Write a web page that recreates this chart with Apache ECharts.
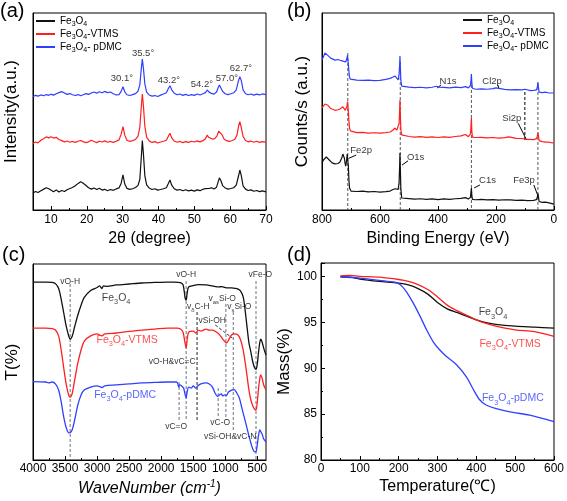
<!DOCTYPE html>
<html><head><meta charset="utf-8">
<script src="https://cdn.jsdelivr.net/npm/echarts@6/dist/echarts.min.js"></script>
<style>html,body{margin:0;padding:0;background:#fff}#c{width:567px;height:501px}</style>
</head><body><div id="c"></div>
<script>
const FONT = '"Liberation Sans", Arial, sans-serif';
const BLACK = '#111111', RED = '#ff1f1f', BLUE = '#2f3fff', DASH = '#6b7185';

// ---------- (a) XRD ----------
const seriesNames = ['Fe3O4', 'Fe3O4-VTMS', 'Fe3O4- pDMC'];
const xrdTicks = [10, 20, 30, 40, 50, 60, 70];
const xrdMinorTicks = [5, 15, 25, 35, 45, 55, 65];
const xrdFe3O4 = [[5,8.6],[5.7,9.4],[6.4,8.9],[7.2,9.8],[8,10.6],[8.7,11.3],[9.4,10.8],[10,10.1],[10.7,9.3],[11.5,10.2],[12.2,9.1],[13,9.9],[13.8,9.4],[14.5,10.3],[15.3,10.9],[16,11.4],[16.8,12.3],[17.6,13.5],[18.3,14.3],[19,13.6],[19.8,12.4],[20.5,11.3],[21.3,10.6],[22,11.2],[22.8,10.4],[23.5,11.0],[24.3,10.1],[25,10.5],[25.8,9.8],[26.6,10.4],[27.4,10.0],[28.2,10.7],[29,11.2],[29.6,13.6],[30.1,17.8],[30.6,13.2],[31.2,11.0],[32,10.5],[32.8,10.8],[33.6,11.4],[34.3,12.5],[34.8,15.5],[35.2,26.5],[35.5,35.2],[35.8,28.5],[36.2,17.5],[36.7,12.8],[37.4,11.2],[38.2,10.4],[39,10.8],[39.8,10.1],[40.6,10.4],[41.4,10.8],[42.2,11.3],[42.8,13.6],[43.2,15.2],[43.7,12.6],[44.4,10.8],[45.2,10.1],[46,10.4],[46.8,9.8],[47.6,10.3],[48.4,9.7],[49.2,10.1],[50,9.6],[50.8,10.2],[51.6,9.8],[52.4,10.5],[53.1,10.9],[53.6,11.9],[54.2,11.0],[54.8,11.3],[55.5,10.7],[56.2,11.6],[56.7,14.5],[57.0,16.3],[57.4,15.0],[57.9,12.4],[58.6,11.2],[59.4,10.6],[60.2,10.9],[61,11.3],[61.7,12.6],[62.3,17.0],[62.7,20.3],[63.1,17.6],[63.6,12.3],[64.3,10.6],[65,9.9],[65.8,10.2],[66.6,9.5],[67.4,9.9],[68.2,9.3],[69,9.7],[70,9.2]];
const xrdVTMS = [[5,33.8],[5.7,34.5],[6.4,34.1],[7.2,35.4],[8,36.3],[8.7,37.1],[9.4,36.6],[10,37.2],[10.7,36.5],[11.5,36.9],[12.2,35.8],[13,35.2],[13.8,34.6],[14.5,35.0],[15.3,34.4],[16,34.8],[16.8,34.3],[17.6,34.9],[18.3,35.3],[19,34.7],[19.8,34.2],[20.5,34.6],[21.3,35.4],[22,34.8],[22.8,34.2],[23.5,34.9],[24.3,34.5],[25,35.1],[25.8,34.4],[26.6,34.8],[27.4,34.3],[28.2,34.9],[29,35.6],[29.6,38.5],[30.1,42.3],[30.6,38.0],[31.2,35.4],[32,34.8],[32.8,35.2],[33.6,35.8],[34.3,37.5],[34.8,42],[35.2,52],[35.5,58.9],[35.8,53],[36.2,42.5],[36.7,37.0],[37.4,35.1],[38.2,34.3],[39,34.7],[39.8,34.0],[40.6,34.5],[41.4,34.9],[42.2,35.4],[42.8,37.6],[43.2,39.0],[43.7,36.6],[44.4,35.0],[45.2,34.4],[46,34.8],[46.8,34.2],[47.6,34.7],[48.4,34.3],[49.2,34.9],[50,34.5],[50.8,35.1],[51.6,34.6],[52.4,35.2],[53.1,36.2],[53.6,38.0],[54.0,36.9],[54.4,37.8],[55,36.0],[55.7,36.2],[56.3,37.5],[56.8,40.0],[57.2,40.6],[57.7,38.3],[58.3,36.0],[59,35.2],[59.8,34.8],[60.6,35.3],[61.3,35.9],[61.9,38.0],[62.4,43.0],[62.7,44.8],[63.1,42.0],[63.6,37.4],[64.3,35.3],[65,34.6],[65.8,35.0],[66.6,34.4],[67.4,34.9],[68.2,34.3],[69,34.7],[70,34.5]];
const xrdPDMC = [[5,57.5],[5.7,58.2],[6.4,57.8],[7.2,58.4],[8,58.0],[8.7,58.6],[9.4,58.2],[10,58.8],[10.7,58.3],[11.5,59.0],[12.2,59.6],[13,60.1],[13.8,59.4],[14.5,58.7],[15.3,59.1],[16,58.5],[16.8,58.1],[17.6,58.6],[18.3,58.0],[19,58.5],[19.8,59.1],[20.5,58.7],[21.3,59.4],[22,59.9],[22.8,59.3],[23.5,60.0],[24.3,59.5],[25,60.2],[25.8,59.6],[26.6,59.9],[27.4,59.0],[28.2,58.4],[29,58.6],[29.6,60.2],[30.1,62.6],[30.6,60.0],[31.2,58.5],[32,58.1],[32.8,58.6],[33.6,59.1],[34.3,60.3],[34.8,63.5],[35.2,71.5],[35.5,76.6],[35.8,72],[36.2,64],[36.7,59.8],[37.4,58.4],[38.2,57.8],[39,58.1],[39.8,57.6],[40.6,58.3],[41.4,58.9],[42.2,59.5],[42.8,61.8],[43.2,63.1],[43.7,61.0],[44.4,59.3],[45.2,58.5],[46,58.9],[46.8,58.2],[47.6,58.7],[48.4,58.1],[49.2,58.6],[50,58.2],[50.8,58.9],[51.6,58.4],[52.4,59.0],[53.1,59.6],[53.6,60.9],[54.2,59.7],[54.8,59.2],[55.5,58.8],[56.2,59.9],[56.7,62.3],[57.0,63.5],[57.4,62.5],[57.9,60.2],[58.6,59.0],[59.4,58.6],[60.2,59.0],[61,59.5],[61.7,61.0],[62.3,65.5],[62.7,67.7],[63.1,65.8],[63.6,61.0],[64.3,59.0],[65,58.5],[65.8,58.9],[66.6,58.3],[67.4,58.8],[68.2,58.4],[69,58.9],[70,58.6]];
const xrdPeakLabels = [[29.8,67,'30.1°'],[35.7,79.7,'35.5°'],[42.9,66,'43.2°'],[52.1,64,'54.2°'],[59.1,67,'57.0°'],[63.0,72.1,'62.7°']];

// ---------- (b) XPS ----------
const xpsTicks = [800, 600, 400, 200, 0];
const xpsMinorTicks = [700, 500, 300, 100];
const xpsFe3O4 = [[800,23.9],[795,25.4],[790,26.4],[785,26.9],[780,26.2],[775,25.4],[770,24.6],[765,23.9],[755,23.4],[745,23.6],[738,24.4],[732,26.4],[728,28.4],[726,29.4],[723,26.4],[720,23.4],[718,22.3],[715,25.4],[713,28.4],[711,29.4],[709,22],[707,15],[705,11.2],[702,10.2],[700,9.6],[680,9.4],[660,9.6],[640,9.2],[620,9.4],[600,9.1],[580,9.3],[565,9.6],[555,10.4],[548,10.8],[542,9.8],[537,10.5],[534,14],[532,23],[531,28.9],[529.5,20],[528,11],[525,6.1],[520,5.6],[500,5.8],[480,5.5],[460,5.7],[440,5.4],[420,5.6],[400,5.3],[380,5.6],[360,5.4],[340,5.7],[320,5.9],[305,6.3],[295,5.6],[288,6.4],[286,9],[284.5,11.2],[283,7.5],[281,5.4],[270,5.2],[250,5.4],[230,5.1],[210,5.3],[190,5.0],[170,5.2],[150,5.1],[130,4.9],[110,5.0],[90,4.8],[70,4.9],[60,5.3],[57,6.5],[55,8.3],[53,6.5],[51,4.3],[48,4.1],[40,3.9],[30,4.0],[25,4.6],[20,3.7],[10,3.4],[5,3.2],[0,3.0]];
const xpsVTMS = [[800,51.8],[795,52.8],[790,53.8],[785,54.0],[780,53.2],[775,52.3],[770,51.5],[765,50.8],[755,50.6],[745,50.9],[738,51.3],[732,52],[728,52.4],[726,52.6],[723,51.5],[720,50.6],[717,50.2],[714,52.5],[712,55],[711,55.3],[709,50],[707,45],[705,41.6],[702,40.2],[700,39.6],[680,39.3],[660,39.4],[640,39.0],[620,39.2],[600,39.0],[580,39.3],[565,39.6],[555,40.6],[548,41.6],[542,40.5],[537,40.8],[534,44],[532,51],[531,55.8],[529.5,48],[528,41],[525,38.1],[520,37.1],[500,37.3],[480,37.0],[460,37.2],[440,36.9],[420,37.1],[400,36.8],[380,37.1],[360,36.9],[340,37.3],[320,37.6],[305,38.3],[295,37.2],[288,38.6],[286,42],[284.5,46.7],[283,40],[281,37.0],[270,36.8],[250,36.9],[230,36.6],[210,36.8],[190,36.5],[170,36.7],[155,37.1],[150,36.6],[130,36.4],[110,36.3],[100,36.0],[90,35.9],[70,35.7],[60,36.2],[57,37.5],[55,39.1],[53,37.5],[51,35.2],[48,34.9],[40,34.7],[30,34.5],[20,34.5],[10,34.2],[0,34.0]];
const xpsPDMC = [[800,76.1],[797,77.0],[793,78.6],[790,79.7],[785,79.6],[780,78.5],[775,77.7],[770,77.1],[765,76.6],[755,76.1],[745,76.4],[738,76.0],[732,75.8],[728,75.6],[726,76.1],[722,75.5],[718,75.1],[715,76.5],[712,78.5],[711,79.2],[709,74],[707,70],[705,67.5],[702,66.4],[700,66.0],[680,65.9],[660,65.8],[640,65.9],[620,65.7],[600,65.8],[580,66.3],[565,66.8],[555,67.5],[548,68.0],[542,67.2],[537,66.0],[534,69],[532,74],[531,78.2],[529.5,72],[528,66],[525,62.9],[520,62.2],[500,62.4],[480,62.1],[460,62.3],[440,62.0],[420,62.3],[405,62.8],[401,63.5],[398,62.3],[380,62.2],[360,62.0],[340,62.4],[320,62.1],[305,62.6],[295,62.0],[288,63.2],[286,65.5],[284.5,69.0],[283,64.5],[281,61.8],[270,61.3],[250,61.5],[230,61.3],[210,61.6],[200,62.0],[195,61.4],[170,61.2],[150,61.0],[130,61.1],[110,61.0],[100,61.3],[97,61.8],[94,60.8],[80,60.6],[70,60.7],[60,61.0],[57,62.5],[55,64.5],[53,62],[51,59.8],[48,59.7],[40,59.6],[30,59.8],[20,59.5],[10,59.4],[0,59.4]];
// dashed guide lines: [eV, yTop, yBottom, color]
const xpsGuides = [[711,79.7,0,'#555'],[530,75.1,0,'#555'],[284.5,66,0,'#555'],[100,59.9,35.5,'#000'],[55,65,0,'#555']];
// leader lines: [x1,y1,x2,y2]
const xpsLeaders = [[389,63.5,403,61.9],[193,63.5,190,61.9],[123,44,94,35.5],[682,27.9,708,26.2],[503,25,524,22.8],[255,12.7,275,11.2],[69,12.7,54,6.8]];
const xpsLabels = [[365,65.2,'N1s'],[213,65.2,'Cl2p'],[145,46.4,'Si2p'],[665,30.2,'Fe2p'],[477,26.6,'O1s'],[229,15.2,'C1s'],[103,15,'Fe3p']];

// ---------- (c) FTIR ----------
const ftirTicks = [4000, 3500, 3000, 2500, 2000, 1500, 1000, 500];
const ftirMinorTicks = [3750, 3250, 2750, 2250, 1750, 1250, 750];
const ftirFe3O4 = [[4000,90.8],[3800,90.8],[3700,90.6],[3650,90.0],[3600,87.5],[3560,82],[3520,75],[3480,68],[3440,63],[3420,61.7],[3390,63],[3350,68],[3300,74],[3250,79],[3200,83],[3100,86.5],[3000,88],[2960,88.8],[2925,87.5],[2900,88.8],[2850,88.6],[2700,89.3],[2500,89.8],[2300,90.3],[2100,90.6],[1900,90.8],[1800,90.8],[1700,90.5],[1660,89.5],[1640,86],[1625,82.5],[1610,81.6],[1595,85],[1570,88.3],[1500,89],[1420,89.5],[1300,89.3],[1200,88.8],[1100,88.3],[1050,88.5],[1000,88.0],[900,87.8],[850,87.6],[800,87.2],[760,86.2],[720,83.2],[690,76.5],[660,67.9],[630,59.7],[600,55.1],[570,50],[540,46.9],[520,46.2],[500,49],[480,55.1],[460,60.2],[445,61.7],[425,60.2],[400,57.1],[380,55.1],[364,53.6]];
const ftirVTMS = [[4000,67.3],[3800,67.3],[3700,67.0],[3650,66.3],[3600,63.3],[3560,56.1],[3520,46.9],[3480,38.3],[3440,32.7],[3420,32.1],[3390,33.7],[3350,40.8],[3300,49.5],[3250,56.1],[3200,60.7],[3100,63.3],[3000,64.3],[2925,63.3],[2880,64.3],[2700,64.8],[2500,65.6],[2300,66.3],[2100,66.8],[1900,67.3],[1750,67.3],[1700,66.8],[1660,65.3],[1630,60.2],[1610,57.1],[1595,61.2],[1570,65.3],[1500,65.8],[1460,64.8],[1420,66.3],[1380,65.8],[1300,66.8],[1250,66.3],[1200,66.3],[1100,64.3],[1040,61.7],[980,59.7],[940,61.7],[900,63.8],[860,64.3],[800,63.8],[760,61.2],[720,56.1],[690,50],[660,42.9],[630,35.7],[600,30.6],[570,27.6],[540,25.8],[520,25.5],[500,29.6],[480,36.7],[460,41.8],[445,43.4],[425,41.8],[400,38.3],[364,35.7]];
const ftirPDMC = [[4000,40],[3800,39.8],[3750,39.3],[3700,39.8],[3650,38.8],[3600,35.7],[3560,29.6],[3520,21.9],[3480,16.3],[3440,13.8],[3420,13.9],[3390,15.3],[3350,20.4],[3300,28.1],[3250,33.2],[3200,35.7],[3100,37.2],[3000,37.8],[2925,37.0],[2880,37.8],[2700,38.3],[2500,38.8],[2300,39.3],[2100,39.6],[1900,39.8],[1760,39.8],[1740,38.8],[1725,37.2],[1710,38.3],[1680,37.8],[1650,36.7],[1625,33.2],[1610,31.6],[1595,34.7],[1570,37.2],[1530,36.7],[1500,37.8],[1460,36.7],[1430,37.8],[1380,38.8],[1300,39.3],[1250,38.8],[1200,37.2],[1160,34.2],[1120,32.4],[1090,33.2],[1060,33.7],[1040,32.7],[1010,33.2],[980,32.9],[950,34.7],[900,35.7],[860,35.9],[820,34.2],[780,31.6],[740,26.5],[700,21.4],[660,16.3],[630,12.2],[600,8.7],[570,5.6],[540,4.1],[520,4.2],[500,7.7],[480,12.8],[460,15.3],[445,14.4],[425,13.3],[400,10.7],[364,9.3]];
// dashed guides: [wavenumber, yTop, yBottom, color]
const ftirGuides = [[3420,89.8,0,DASH],[1720,39.8,19.4,DASH],[1610,91.3,20.4,DASH],[1440,75.5,20.4,'#222'],[1110,36.7,21.4,DASH],[990,79.6,20.4,DASH],[875,75.5,15.3,DASH],[520,91.3,0,DASH]];
const ftirLeaders = [[1156,68.9,891,62.2]];
const ftirLabels = [[3420,91.2,'vO-H'],[1610,94.4,'vO-H'],[453,94.4,'vFe-O'],[1422,78.1,'v_{δ}C-H'],[1047,82.1,'v_{as}Si-O'],[781,78.1,'v_{s}Si-O'],[1203,70.9,'vSi-OH'],[1828,50,'vO-H&vC=C'],[1766,16.8,'vC=O'],[1078,18.9,'vC-O'],[922,11.7,'vSi-OH&vC-N']];
const ftirCurveLabels = [[2703,82.7,'Fe3O4',BLACK],[2531,61.2,'Fe3O4-VTMS',RED],[2562,33.2,'Fe3O4-pDMC',BLUE]];

// ---------- (d) TGA ----------
const tgaFe3O4 = [[50,100.0],[75,99.95],[100,99.75],[150,99.5],[200,99.3],[225,99.1],[250,98.7],[275,98.1],[300,97.2],[325,96.5],[350,96.1],[375,95.7],[400,95.3],[425,95.0],[450,94.8],[500,94.6],[550,94.5],[600,94.4]];
const tgaVTMS = [[50,100.1],[75,100.15],[100,100.05],[150,99.95],[200,99.7],[225,99.5],[250,99.15],[275,98.6],[300,97.8],[325,96.9],[350,96.3],[375,95.8],[400,95.3],[425,94.9],[450,94.6],[500,94.2],[550,94.0],[600,93.5]];
const tgaPDMC = [[50,100.0],[100,99.85],[150,99.6],[190,99.4],[200,99.25],[210,98.9],[221,98.3],[238,97.1],[255,95.7],[272,94.2],[289,92.9],[306,92.0],[323,91.3],[349,90.4],[374,89.1],[391,87.8],[408,86.6],[425,86.0],[451,85.6],[494,85.2],[537,84.9],[600,84.2]];
const tgaCurveLabels = [[443,96.1,'Fe3O4',BLACK],[487,92.7,'Fe3O4-VTMS',RED],[494,86.7,'Fe3O4-pDMC',BLUE]];

// ---------- helpers ----------
function richOf(s) {
  s = s.replace(/Fe3O4/g, 'Fe_{3}O_{4}');
  const parts = s.split(/_\{([^}]*)\}/);
  return parts.map((p, i) => p === '' ? '' : (i % 2 ? '{s|' + p + '}' : '{t|' + p + '}')).join('');
}
function richStyle(size, color) {
  const ss = Math.round(size * 0.7 * 10) / 10;
  return {
    t: { fontSize: size, lineHeight: Math.round(size * 1.4), color: color, fontFamily: FONT },
    s: { fontSize: ss, lineHeight: ss, verticalAlign: 'bottom', color: color, fontFamily: FONT }
  };
}
function curve(name, data, color, xi, yi, smooth, width) {
  return { type: 'line', name: name, data: data, xAxisIndex: xi, yAxisIndex: yi, symbol: 'none',
    smooth: smooth, lineStyle: { color: color, width: width || 1.3 }, itemStyle: { color: color },
    silent: true, z: 3 };
}
function segs(list, xi, yi, dashed, defColor) {
  return list.map(g => ({
    type: 'line', data: g.length === 4 && typeof g[3] === 'number' ? [[g[0], g[1]], [g[2], g[3]]] : [[g[0], g[1]], [g[0], g[2]]],
    xAxisIndex: xi, yAxisIndex: yi, symbol: 'none', silent: true, z: 2,
    lineStyle: { color: (typeof g[3] === 'string' ? g[3] : defColor), width: 1, type: dashed ? [3, 2] : 'solid' }
  }));
}
function texts(list, xi, yi, size, defColor) {
  return list.map(l => {
    const col = l[3] || defColor;
    return {
      type: 'scatter', xAxisIndex: xi, yAxisIndex: yi, data: [[l[0], l[1]]], symbolSize: 1,
      itemStyle: { color: 'rgba(0,0,0,0)' }, silent: true, z: 5, clip: false,
      label: { show: true, position: 'inside', formatter: () => richOf(l[2]), rich: richStyle(size, col) }
    };
  });
}
const plain = v => String(v);
const axisText = { color: '#000', fontFamily: FONT, fontSize: 12, formatter: plain };
const nameX = { color: '#000', fontFamily: FONT, fontSize: 16 };
const nameY = { color: '#000', fontFamily: FONT, fontSize: 17 };
const line = { show: true, onZero: false, lineStyle: { color: '#000', width: 1 } };
const noLine = { show: false, onZero: false };

const chart = echarts.init(document.getElementById('c'), null, { renderer: 'canvas' });
const legendRich = richStyle(10, '#000');
const legendBase = { data: seriesNames, orient: 'vertical', icon: 'rect', itemWidth: 19, itemHeight: 2, itemGap: 1, padding: 0,
  formatter: n => richOf(n), textStyle: { rich: legendRich }, selectedMode: false };
const majorTick = vals => ({ show: true, inside: true, length: 4, customValues: vals, lineStyle: { color: '#000' } });
const minorTickAxis = (grid, min, max, inverse, vals) => ({ gridIndex: grid, type: 'value', min: min, max: max, inverse: inverse,
  position: 'bottom', axisLine: noLine, splitLine: { show: false },
  axisTick: { show: true, inside: true, length: 2, customValues: vals, lineStyle: { color: '#000' } }, axisLabel: { show: false } });
chart.setOption({
  animation: false,
  backgroundColor: '#fff',
  title: [
    { text: '(a)', left: 0, top: 1, padding: 0, textStyle: { fontFamily: FONT, fontSize: 20, fontWeight: 'normal', color: '#000' } },
    { text: '(b)', left: 287, top: 1, padding: 0, textStyle: { fontFamily: FONT, fontSize: 20, fontWeight: 'normal', color: '#000' } },
    { text: '(c)', left: 2, top: 245, padding: 0, textStyle: { fontFamily: FONT, fontSize: 20, fontWeight: 'normal', color: '#000' } },
    { text: '(d)', left: 287, top: 245, padding: 0, textStyle: { fontFamily: FONT, fontSize: 20, fontWeight: 'normal', color: '#000' } }
  ],
  legend: [
    { ...legendBase, left: 36, top: 16 },
    { ...legendBase, left: 463, top: 15 }
  ],
  grid: [
    { left: 33, top: 13, width: 233, height: 197, show: true, borderColor: '#000', borderWidth: 1, backgroundColor: 'transparent' },
    { left: 322, top: 13, width: 232, height: 197, show: true, borderColor: '#000', borderWidth: 1, backgroundColor: 'transparent' },
    { left: 33, top: 264, width: 233, height: 196, show: true, borderColor: '#000', borderWidth: 1, backgroundColor: 'transparent' },
    { left: 321, top: 263, width: 233, height: 197, show: true, borderColor: '#000', borderWidth: 1, backgroundColor: 'transparent' }
  ],
  xAxis: [
    { gridIndex: 0, type: 'value', min: 5, max: 70, position: 'bottom', axisLine: line, splitLine: { show: false },
      axisTick: majorTick(xrdTicks), axisLabel: { customValues: xrdTicks, margin: 4, ...axisText },
      name: '2θ (degree)', nameLocation: 'middle', nameGap: 21, nameTextStyle: nameX },
    minorTickAxis(0, 5, 70, false, xrdMinorTicks),
    { gridIndex: 1, type: 'value', min: -0.5, max: 800, inverse: true, position: 'bottom', axisLine: line, splitLine: { show: false },
      axisTick: majorTick(xpsTicks),
      axisLabel: { margin: 4, customValues: xpsTicks, showMinLabel: true, showMaxLabel: true, ...axisText },
      name: 'Binding Energy (eV)', nameLocation: 'middle', nameGap: 21, nameTextStyle: nameX },
    minorTickAxis(1, -0.5, 800, true, xpsMinorTicks),
    { gridIndex: 2, type: 'value', min: 364, max: 4000, inverse: true, position: 'bottom', axisLine: line, splitLine: { show: false },
      axisTick: majorTick(ftirTicks), axisLabel: { customValues: ftirTicks, margin: 3, ...axisText },
      name: '{i|WaveNumber (cm}{sup|-1}{i|)}', nameLocation: 'middle', nameGap: 19,
      nameTextStyle: { ...nameX, rich: { i: { fontFamily: FONT, fontSize: 16, fontStyle: 'italic', color: '#000', lineHeight: 20 },
        sup: { fontFamily: FONT, fontSize: 10, fontStyle: 'italic', color: '#000', verticalAlign: 'top', lineHeight: 12 } } } },
    minorTickAxis(2, 364, 4000, true, ftirMinorTicks),
    { gridIndex: 3, type: 'value', min: 0, max: 600, interval: 100, axisLine: line, splitLine: { show: false },
      axisTick: { show: true, inside: true, length: 4, lineStyle: { color: '#000' } },
      minorTick: { show: true, splitNumber: 2, length: 2, lineStyle: { color: '#000' } },
      axisLabel: { margin: 3, ...axisText },
      name: 'Temperature(℃)', nameLocation: 'middle', nameGap: 19, nameTextStyle: nameX }
  ],
  yAxis: [
    { gridIndex: 0, type: 'value', min: 0, max: 100, axisLine: line, axisTick: { show: false }, axisLabel: { show: false }, splitLine: { show: false },
      name: 'Intensity(a.u.)', nameLocation: 'middle', nameRotate: 90, nameGap: 13, nameTextStyle: nameY },
    { gridIndex: 1, type: 'value', min: 0, max: 100, axisLine: line, axisTick: { show: false }, axisLabel: { show: false }, splitLine: { show: false },
      name: 'Counts/s (a.u.)', nameLocation: 'middle', nameRotate: 90, nameGap: 11, nameTextStyle: nameY },
    { gridIndex: 2, type: 'value', min: 0, max: 100, axisLine: line, axisTick: { show: false }, axisLabel: { show: false }, splitLine: { show: false },
      name: 'T(%)', nameLocation: 'middle', nameRotate: 90, nameGap: 12, nameTextStyle: nameY },
    { gridIndex: 3, type: 'value', min: 80, max: 101.5, interval: 5, axisLine: line, splitLine: { show: false },
      axisTick: { show: true, inside: true, length: 4, lineStyle: { color: '#000' } },
      minorTick: { show: true, splitNumber: 2, length: 2, lineStyle: { color: '#000' } },
      axisLabel: { margin: 4, showMaxLabel: false, ...axisText },
      name: 'Mass(%)', nameLocation: 'middle', nameRotate: 90, nameGap: 21, nameTextStyle: nameY }
  ],
  series: [
    curve(seriesNames[0], xrdFe3O4, BLACK, 0, 0, false, 1.2),
    curve(seriesNames[1], xrdVTMS, RED, 0, 0, false, 1.2),
    curve(seriesNames[2], xrdPDMC, BLUE, 0, 0, false, 1.2),
    ...texts(xrdPeakLabels, 0, 0, 9.5, '#000'),
    ...segs(xpsGuides, 2, 1, true, '#555'),
    ...segs(xpsLeaders, 2, 1, false, '#000'),
    curve(seriesNames[0], xpsFe3O4, BLACK, 2, 1, false, 1.2),
    curve(seriesNames[1], xpsVTMS, RED, 2, 1, false, 1.2),
    curve(seriesNames[2], xpsPDMC, BLUE, 2, 1, false, 1.2),
    ...texts(xpsLabels, 2, 1, 9.5, '#000'),
    ...segs(ftirGuides, 4, 2, true, DASH),
    ...segs(ftirLeaders, 4, 2, true, '#333'),
    curve('c-Fe3O4', ftirFe3O4, BLACK, 4, 2, 0.3, 1.3),
    curve('c-VTMS', ftirVTMS, RED, 4, 2, 0.3, 1.3),
    curve('c-pDMC', ftirPDMC, BLUE, 4, 2, 0.3, 1.3),
    ...texts(ftirLabels, 4, 2, 8.5, '#000'),
    ...texts(ftirCurveLabels, 4, 2, 10.5, '#000'),
    curve('d-Fe3O4', tgaFe3O4, BLACK, 6, 3, 0.3, 1.3),
    curve('d-VTMS', tgaVTMS, RED, 6, 3, 0.3, 1.3),
    curve('d-pDMC', tgaPDMC, BLUE, 6, 3, 0.3, 1.3),
    ...texts(tgaCurveLabels, 6, 3, 10.5, '#000')
  ]
});
</script></body></html>
